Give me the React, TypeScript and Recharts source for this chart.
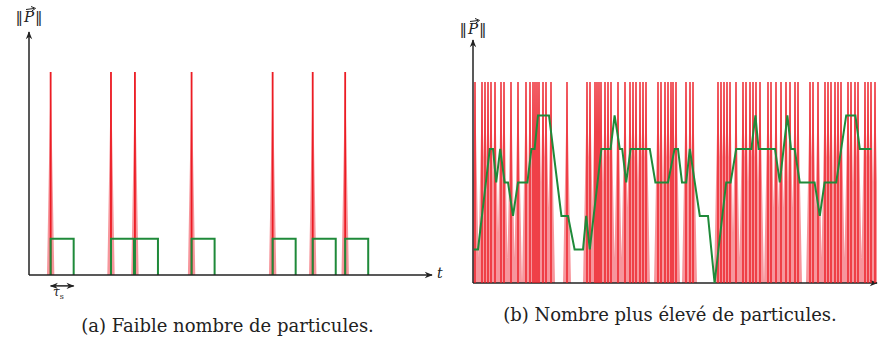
import React from "react"
import {
    ComposedChart,
    Area,
    Line,
    XAxis,
    YAxis,
    ReferenceLine,
} from "recharts"

// panel (a): arrival times of the few particles (time unit = tau_s)
const arrivalsA = [0.94, 3.56, 4.6, 7.06, 10.58, 12.32, 13.73]

// panel (b): arrival times of many particles (same kind of unit, 4px each)
const arrivalsB = [
    0.5, 2.25, 3, 3.75, 4.5, 5.5, 7, 7.75, 9.5, 11.25, 13.25, 14.25, 15, 15.5, 16,
    16.5, 17.5, 18.25, 19.5, 23.5, 28.5, 29.25, 30.5, 31, 31.5, 32, 33, 33.75, 34.5,
    36.25, 38, 39.25, 40, 40.75, 41.75, 42.5, 43.25, 46.25, 47, 48, 48.75, 49.5, 50,
    50.75, 53.25, 54.25, 55, 61.25, 62, 62.75, 63.5, 64.25, 65.75, 67.5, 68.25, 69.25,
    70, 70.75, 71.75, 73.75, 74.5, 75.75, 77, 78.25, 79.25, 80.5, 81.25, 84.25, 85,
    86.25, 88, 88.75, 89.5, 90.5, 91.25, 92, 93.75, 94.5, 95.5, 96.25, 98, 98.75,
    99.5, 100.5,
]

// panel (b): green counting curve
const countTimesB = [
    0.25, 1.25, 4.2, 5, 5.8, 6.8, 7.9, 8.75, 10, 11.25, 13.6, 14.6, 15.4, 16.25, 19,
    22.1, 23.75, 25.4, 27.5, 28.3, 29.2, 32.1, 34.4, 35.4, 36.7, 37.3, 38.3, 39.4,
    44.2, 45.6, 48.75, 50.4, 51.25, 52.25, 53.3, 54.2, 56.7, 58.75, 60.4, 63.3, 64.4,
    65.8, 69.6, 70.6, 71.4, 75.5, 76.7, 78.6, 79.5, 80.4, 81.7, 85.4, 86.7, 87.9,
    90.8, 93.3, 95.6, 96.7, 99.6,
]
const countLevelsB = [
    1, 1, 4, 4, 3, 4, 3, 3, 2, 3, 3, 4, 4, 5, 5, 2, 2, 1, 1, 2, 1, 4, 4, 5, 4, 4, 3,
    4, 4, 3, 3, 4, 4, 3, 3, 4, 2, 2, 0, 3, 3, 4, 4, 5, 4, 4, 3, 5, 4, 4, 3, 3, 2, 3,
    3, 5, 5, 4, 4,
]

const TAU = 1
const SPIKE_A = 5.6
const SPIKE_B = 6

const RED = "#ec1c24"
const PALE = "#f2505a"
const GREEN = "#1f8a3a"
const INK = "#222"

type Pt = { t: number; v: number | null }

// triangular base of each impulse
function spikeFill(times: number[], h: number, w: number): Pt[] {
    const pts: Pt[] = []
    for (const s of times) {
        pts.push({ t: s - w, v: 0 }, { t: s, v: h }, { t: s + w, v: 0 }, { t: s + w, v: null })
    }
    return pts
}

// thin center line of each impulse
function spikeLines(times: number[], h: number): Pt[] {
    const pts: Pt[] = []
    for (const s of times) {
        pts.push({ t: s, v: 0 }, { t: s, v: h }, { t: s, v: null })
    }
    return pts
}

// one window of length tau_s after each arrival
function windows(times: number[]): Pt[] {
    const pts: Pt[] = []
    for (const s of times) {
        pts.push({ t: s, v: 0 }, { t: s, v: 1 }, { t: s + TAU, v: 1 }, { t: s + TAU, v: 0 }, { t: s + TAU, v: null })
    }
    return pts
}

const countB: Pt[] = countTimesB.map((t, i) => ({ t, v: countLevelsB[i] }))

const serif = '"DejaVu Serif", "Liberation Serif", serif'

function Arrow({ id }: { id: string }) {
    return (
        <marker
            id={id}
            viewBox="0 0 10 10"
            refX="9"
            refY="5"
            markerWidth="9"
            markerHeight="8"
            markerUnits="userSpaceOnUse"
            orient="auto-start-reverse"
        >
            <path d="M0,1 L10,5 L0,9 L3,5 Z" fill={INK} />
        </marker>
    )
}

function PanelA() {
    return (
        <ComposedChart
            width={445}
            height={300}
            margin={{ top: 32, right: 13, bottom: 25, left: 29 }}
        >
            <defs>
                <Arrow id="arrA" />
            </defs>
            <XAxis type="number" dataKey="t" domain={[0, 17.5]} allowDataOverflow hide />
            <YAxis type="number" domain={[0, 6.7]} allowDataOverflow hide />

            <Area
                data={spikeFill(arrivalsA, SPIKE_A, 0.16)}
                dataKey="v"
                type="linear"
                stroke="none"
                fill={PALE}
                fillOpacity={0.6}
                isAnimationActive={false}
            />
            <Line
                data={spikeLines(arrivalsA, SPIKE_A)}
                dataKey="v"
                type="linear"
                stroke={RED}
                strokeWidth={1.8}
                dot={false}
                activeDot={false}
                isAnimationActive={false}
            />
            <Line
                data={windows(arrivalsA)}
                dataKey="v"
                type="linear"
                stroke={GREEN}
                strokeWidth={2}
                dot={false}
                activeDot={false}
                isAnimationActive={false}
            />

            <ReferenceLine
                segment={[{ x: 0, y: 0 }, { x: 17.5, y: 0 }]}
                stroke={INK}
                strokeWidth={1.5}
                markerEnd="url(#arrA)"
            />
            <ReferenceLine
                segment={[{ x: 0, y: 0 }, { x: 0, y: 6.7 }]}
                stroke={INK}
                strokeWidth={1.5}
                markerEnd="url(#arrA)"
            />
            <ReferenceLine
                segment={[{ x: arrivalsA[0], y: -0.3 }, { x: arrivalsA[0] + TAU, y: -0.3 }]}
                ifOverflow="visible"
                stroke={INK}
                strokeWidth={1.5}
                markerStart="url(#arrA)"
                markerEnd="url(#arrA)"
            />
        </ComposedChart>
    )
}

function PanelB() {
    return (
        <ComposedChart
            width={440}
            height={300}
            margin={{ top: 40, right: 3, bottom: 17, left: 33 }}
        >
            <defs>
                <Arrow id="arrB" />
            </defs>
            <XAxis type="number" dataKey="t" domain={[0, 101]} allowDataOverflow hide />
            <YAxis type="number" domain={[0, 7.25]} allowDataOverflow hide />

            <ReferenceLine
                segment={[{ x: 0, y: 0 }, { x: 101, y: 0 }]}
                stroke={INK}
                strokeWidth={1.5}
                markerEnd="url(#arrB)"
            />
            <ReferenceLine
                segment={[{ x: 0, y: 0 }, { x: 0, y: 7.25 }]}
                stroke={INK}
                strokeWidth={1.5}
                markerEnd="url(#arrB)"
            />

            <Area
                data={spikeFill(arrivalsB, SPIKE_B, 1.0)}
                dataKey="v"
                type="linear"
                stroke="none"
                fill={PALE}
                fillOpacity={0.6}
                isAnimationActive={false}
            />
            <Line
                data={spikeLines(arrivalsB, SPIKE_B)}
                dataKey="v"
                type="linear"
                stroke={RED}
                strokeWidth={1.4}
                dot={false}
                activeDot={false}
                isAnimationActive={false}
            />
            <Line
                data={countB}
                dataKey="v"
                type="linear"
                stroke={GREEN}
                strokeWidth={2}
                dot={false}
                activeDot={false}
                isAnimationActive={false}
            />
        </ComposedChart>
    )
}

const label: React.CSSProperties = {
    position: "absolute",
    fontFamily: serif,
    color: INK,
    whiteSpace: "nowrap",
    lineHeight: 1,
}

// ||P|| with a small vector arrow drawn above the P
function NormP() {
    return (
        <span>
            ‖
            <span style={{ position: "relative", display: "inline-block", fontStyle: "italic", padding: "0 1px" }}>
                P
                <svg
                    width="10"
                    height="6"
                    viewBox="0 0 10 6"
                    style={{ position: "absolute", left: 3, top: -4 }}
                >
                    <path d="M0,3.5 L8,2.5" stroke={INK} strokeWidth="1" />
                    <path d="M5,0.5 L9.5,2.4 L5.8,5" fill="none" stroke={INK} strokeWidth="1" />
                </svg>
            </span>
            ‖
        </span>
    )
}

export default function App() {
    return (
        <div
            style={{
                position: "absolute",
                left: 0,
                top: 0,
                width: 880,
                height: 338,
                background: "#fff",
                overflow: "hidden",
            }}
        >
            <div style={{ position: "absolute", left: 0, top: 0 }}>
                <PanelA />
            </div>
            <div style={{ position: "absolute", left: 440, top: 0 }}>
                <PanelB />
            </div>

            <div style={{ ...label, left: 4, top: 10, width: 50, textAlign: "center", fontSize: 15 }}>
                <NormP />
            </div>
            <div style={{ ...label, left: 448, top: 22, width: 50, textAlign: "center", fontSize: 15 }}>
                <NormP />
            </div>
            <div style={{ ...label, left: 437, top: 266, fontSize: 14 }}>
                <i>t</i>
            </div>
            <div style={{ ...label, left: 53, top: 286, fontSize: 12 }}>
                <i>τ</i>
                <sub style={{ fontSize: 8 }}>s</sub>
            </div>

            <div style={{ ...label, left: 0, width: 455, top: 317, textAlign: "center", fontSize: 18 }}>
                (a) Faible nombre de particules.
            </div>
            <div style={{ ...label, left: 440, width: 460, top: 306, textAlign: "center", fontSize: 18 }}>
                (b) Nombre plus élevé de particules.
            </div>
        </div>
    )
}
